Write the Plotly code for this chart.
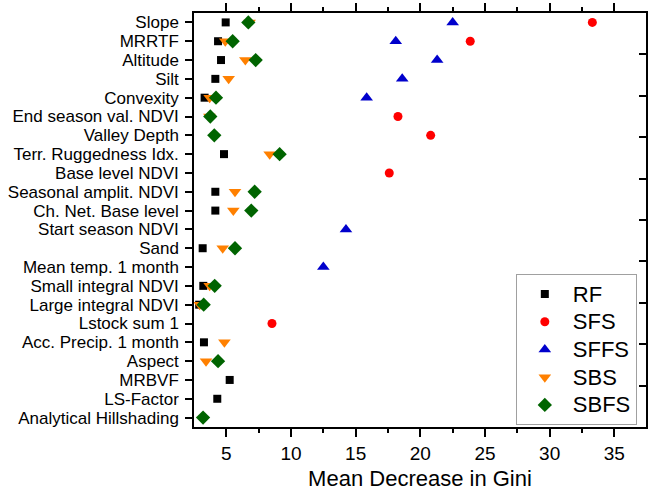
import plotly.graph_objects as go

# feature importance (mean decrease in Gini) per selection method
features = ["Slope", "MRRTF", "Altitude", "Silt", "Convexity", "End season val. NDVI",
            "Valley Depth", "Terr. Ruggedness Idx.", "Base level NDVI", "Seasonal amplit. NDVI",
            "Ch. Net. Base level", "Start season NDVI", "Sand", "Mean temp. 1 month",
            "Small integral NDVI", "Large integral NDVI", "Lstock sum 1", "Acc. Precip. 1 month",
            "Aspect", "MRBVF", "LS-Factor", "Analytical Hillshading"]

rf = [4.95, 4.36, 4.59, 4.15, 3.32, None, None, 4.82, None, 4.15, 4.15, None,
      3.17, None, 3.22, 2.9, None, 3.27, None, 5.26, 4.3, None]
sfs = [33.3, 23.86, None, None, None, 18.27, 20.8, None, 17.6, None, None, None,
       None, None, None, None, 8.53, None, None, None, None, None]
sffs = [22.5, 18.1, 21.3, 18.6, 15.85, None, None, None, None, None, None, 14.25,
        None, 12.5, None, None, None, None, None, None, None, None]
sbs = [6.8, 4.92, 6.47, 5.18, 3.71, 3.69, None, 8.35, None, 5.67, 5.54, None,
       4.72, None, 3.71, 2.94, None, 4.85, 3.43, None, None, None]
sbfs = [6.7, 5.49, 7.27, None, 4.2, 3.76, 4.07, 9.12, None, 7.19, 6.93, None,
        5.67, None, 4.1, 3.25, None, None, 4.36, None, None, 3.2]

series = [("RF", rf, "square", 8, "#000000"),
          ("SFS", sfs, "circle", 9, "#ff0000"),
          ("SFFS", sffs, "triangle-up", 11, "#0000cc"),
          ("SBS", sbs, "triangle-down", 11, "#ff8000"),
          ("SBFS", sbfs, "diamond", 11, "#006400")]

FONT = "Liberation Sans, Arial, sans-serif"

fig = go.Figure()
for name, vals, sym, sz, col in series:
    fig.add_trace(go.Scatter(x=vals, y=features, mode="markers",
                             name='<span style="font-size:22px">%s</span>' % name,
                             marker=dict(symbol=sym, size=sz, color=col, line=dict(width=0))))

# dummy trace to carry the right-hand axis with its own ticks
fig.add_trace(go.Scatter(x=[None], y=[None], yaxis="y2", showlegend=False, hoverinfo="skip"))

fig.update_layout(
    width=653, height=494,
    margin=dict(l=194, r=7, t=13, b=67),
    paper_bgcolor="white", plot_bgcolor="white",
    font=dict(family=FONT, color="black"),
    xaxis=dict(range=[2.5, 37.45], tickvals=[5, 10, 15, 20, 25, 30, 35],
               ticks="outside", ticklen=8, tickwidth=1.5, tickcolor="black",
               showline=True, linewidth=1.5, linecolor="black", mirror="ticks",
               showgrid=False, zeroline=False, automargin=False,
               minor=dict(tickvals=[7.5, 12.5, 17.5, 22.5, 27.5, 32.5], ticks="outside",
                          ticklen=4, tickwidth=1.5, tickcolor="black", showgrid=False),
               tickfont=dict(size=19),
               title=dict(text="Mean Decrease in Gini", font=dict(size=22), standoff=8)),
    yaxis=dict(type="category", categoryorder="array", categoryarray=features,
               tickmode="linear", dtick=1, automargin=False,
               range=[21.5, -0.5], ticks="outside", ticklen=7, tickwidth=1.5,
               tickcolor="black", showline=True, linewidth=1.5, linecolor="black",
               showgrid=False, tickfont=dict(size=17), ticklabelstandoff=3),
    yaxis2=dict(overlaying="y", side="right", range=[0, 10], dtick=1,
                ticks="inside", ticklen=7, tickwidth=1.5, tickcolor="black",
                showticklabels=False, showline=True, linewidth=1.5, linecolor="black",
                showgrid=False, zeroline=False, automargin=False),
    legend=dict(x=0.712, y=0.369, xanchor="left", yanchor="top",
                bgcolor="white", bordercolor="#a0a0a0", borderwidth=1,
                font=dict(size=19), itemwidth=46, tracegroupgap=0),
    showlegend=True,
)

# drop the default body margin so the figure sits at the window's corner
fig.write_html("out.html", config={"displayModeBar": False},
               post_script="document.body.style.margin='0';")
